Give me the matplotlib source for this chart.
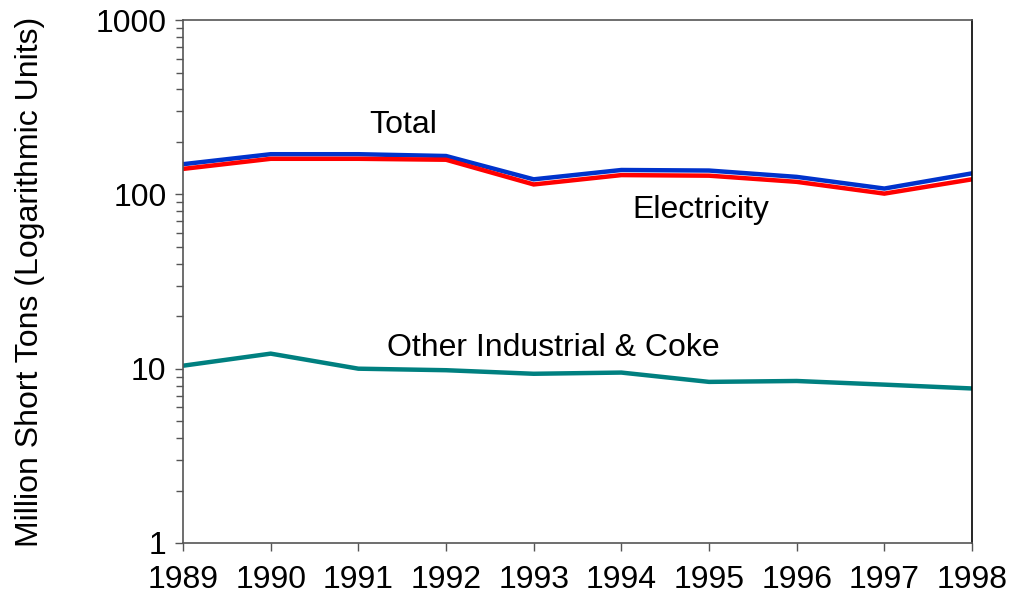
import matplotlib
matplotlib.use("Agg")
import matplotlib.pyplot as plt
from matplotlib.ticker import LogLocator, NullFormatter

years = [1989, 1990, 1991, 1992, 1993, 1994, 1995, 1996, 1997, 1998]
total = [149, 170, 170, 166, 122, 138, 137, 126, 108, 132]
electricity = [140, 160, 160, 158, 114, 129, 128, 118, 101, 122]
other_industrial = [10.4, 12.2, 10.0, 9.8, 9.35, 9.5, 8.4, 8.5, 8.1, 7.7]

y_ticks = [1, 10, 100, 1000]
y_tick_labels = ["1", "10", "100", "1000"]

plt.rcParams["font.family"] = ["Liberation Sans", "DejaVu Sans"]
FS = 23

fig = plt.figure(figsize=(10.13, 5.99), dpi=100)
ax = fig.add_axes([0.1807, 0.0935, 0.7788, 0.873])

ax.plot(years, total, color="#0033CC", lw=3.2, solid_joinstyle="miter")
ax.plot(years, electricity, color="#FF0000", lw=3.2, solid_joinstyle="miter")
ax.plot(years, other_industrial, color="#008080", lw=3.2, solid_joinstyle="miter")

ax.set_yscale("log")
ax.set_ylim(1, 1000)
ax.set_xlim(years[0], years[-1])
ax.set_yticks(y_ticks)
ax.set_yticklabels(y_tick_labels)
ax.yaxis.set_minor_locator(LogLocator(base=10, subs=range(2, 10)))
ax.yaxis.set_minor_formatter(NullFormatter())
ax.set_xticks(years)
ax.set_xticklabels([str(y) for y in years])

ax.tick_params(axis="both", which="major", direction="out", length=6, width=1,
               color="#555555", labelsize=FS, pad=6)
ax.tick_params(axis="y", which="minor", direction="out", length=5, width=1,
               color="#555555")
ax.tick_params(axis="x", which="major", pad=10)

for side in ["left", "bottom", "top"]:
    ax.spines[side].set_color("#555555")
    ax.spines[side].set_linewidth(1.2)
ax.spines["right"].set_color("#000000")
ax.spines["right"].set_linewidth(1.2)

ax.set_ylabel("Million Short Tons (Logarithmic Units)", fontsize=FS, labelpad=36)

ax.text(1991.51, 250, "Total", fontsize=FS, ha="center", va="center")
ax.text(1994.91, 81, "Electricity", fontsize=FS, ha="center", va="center")
ax.text(1993.22, 13.1, "Other Industrial & Coke", fontsize=FS, ha="center", va="center")

fig.savefig("out.png", dpi=100)
